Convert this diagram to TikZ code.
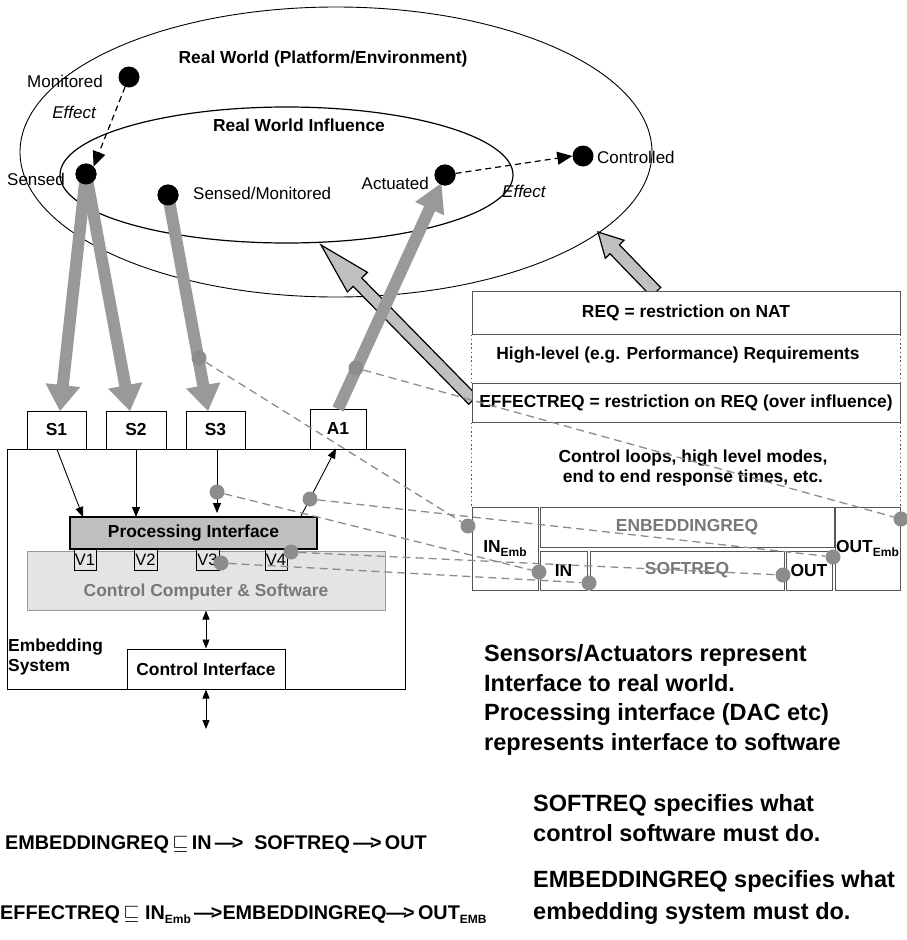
\documentclass[tikz,border=0pt]{standalone}
\usepackage{fontspec}
\setmainfont{Liberation Sans}
\usetikzlibrary{arrows.meta,calc}
\definecolor{darkarrow}{HTML}{999999}
\definecolor{lightarrow}{HTML}{C0C0C0}
\definecolor{dotgray}{HTML}{8C8C8C}
\definecolor{procgray}{HTML}{BFBFBF}
\definecolor{ccsgray}{HTML}{E4E4E4}
\definecolor{txtgray}{HTML}{787878}
\definecolor{boxline}{HTML}{555555}
\newcommand\fatarrow[6]{%
  \coordinate (fahead) at ($(#3)!#6!(#2)$);
  \path[#1] ($(#2)!#4!90:(#3)$) -- ($(fahead)!#4!-90:(#2)$) -- ($(fahead)!#5!-90:(#2)$) -- (#3) -- ($(fahead)!#5!90:(#2)$) -- ($(fahead)!#4!90:(#2)$) -- ($(#2)!#4!-90:(#3)$) -- cycle;}
\newcommand\sbs[1]{\raisebox{-0.35ex}{\fontsize{12}{12}\selectfont #1}}
\newcommand\myto{—\kern-3pt>}
\begin{document}
\begin{tikzpicture}[x=1pt,y=-1pt,
  lblb/.style={font=\fontsize{17.4}{20}\selectfont\bfseries, inner sep=0pt},
  lblr/.style={font=\fontsize{17}{19}\selectfont, inner sep=0pt},
  box/.style={draw=black, line width=1pt, fill=white, inner sep=0pt, font=\fontsize{17.4}{20}\selectfont\bfseries},
  rbox/.style={box, draw=boxline},
  bdot/.style={circle, fill=black, inner sep=0pt, minimum size=21pt},
  gdot/.style={circle, fill=dotgray, inner sep=0pt, minimum size=15pt},
  gdash/.style={draw=dotgray, line width=1.3pt, dash pattern=on 8pt off 5pt},
  bdash/.style={draw=black, line width=1.2pt, dash pattern=on 6pt off 4pt, -{Triangle[length=15pt,width=13pt]}},
  thinarrow/.style={draw=black, line width=0.9pt, -{Triangle[length=10pt,width=8pt]}},
  dblarrow/.style={draw=black, line width=0.9pt, {Triangle[length=9pt,width=7pt]}-{Triangle[length=9pt,width=7pt]}},
  darkfat/.style={fill=darkarrow},
  lightfat/.style={fill=lightarrow, draw=black, line width=1.2pt, line join=miter},
  dotsep/.style={draw=boxline, line width=1.5pt, dash pattern=on 1.5pt off 2.8pt},
  note/.style={font=\fontsize{23.5}{29.5}\selectfont\bfseries, inner sep=0pt, align=left, anchor=west},
  eqn/.style={font=\fontsize{19.8}{22}\selectfont\bfseries, inner sep=0pt, anchor=west}
]
\useasboundingbox (0,0) rectangle (907,940);

% ellipses
\draw[line width=0.9pt] (336,152) ellipse [x radius=316pt, y radius=145pt];
\draw[line width=1.2pt] (286.5,175) ellipse [x radius=226.5pt, y radius=68pt];

% titles and labels
\node[lblb] (tw) at (323,59) {Real World (Platform/Environment)};
\node[lblb] (ti) at (299,125) {Real World Influence};
\node[lblr, anchor=east] (lmon) at (103,81) {Monitored};
\node[lblr, font=\fontsize{17}{19}\selectfont\itshape] (leff1) at (74,112) {Effect};
\node[lblr, anchor=west] (lsen) at (7,179) {Sensed};
\node[lblr, anchor=west] (lsm) at (193,193) {Sensed/Monitored};
\node[lblr, anchor=east] (lact) at (429,183) {Actuated};
\node[lblr, anchor=west] (lctl) at (597,157) {Controlled};
\node[lblr, anchor=west, font=\fontsize{17}{19}\selectfont\itshape] (leff2) at (502,191) {Effect};

% black dots
\node[bdot] (mon) at (129,77) {};
\node[bdot] (sensed) at (86,174) {};
\node[bdot] (sm) at (168,195) {};
\node[bdot] (act) at (445,175) {};
\node[bdot] (ctrl) at (583,156) {};

% embedding system boxes
\node[box, minimum width=398pt, minimum height=240pt] (emb) at (206,569) {};
\node[box, minimum width=59pt, minimum height=38pt] (S1) at (56.5,430) {S1};
\node[box, minimum width=60pt, minimum height=38pt] (S2) at (136,430) {S2};
\node[box, minimum width=59pt, minimum height=38pt] (S3) at (215.5,430) {S3};
\node[box, minimum width=56pt, minimum height=40pt] (A1) at (338,429) {A1};
\node[box, draw=darkarrow, fill=ccsgray, text=txtgray, minimum width=358pt, minimum height=59pt, text depth=0pt] (ccs) at (206,580.5) {\raisebox{-16pt}{Control Computer \& Software}};
\node[box, fill=procgray, line width=1.2pt, minimum width=247pt, minimum height=32pt] (proc) at (193.5,533) {Processing Interface};
\node[box, fill=ccsgray, font=\fontsize{16.5}{19}\selectfont, minimum width=22pt, minimum height=21pt] (V1) at (85,559.5) {V1};
\node[box, fill=ccsgray, font=\fontsize{16.5}{19}\selectfont, minimum width=23pt, minimum height=21pt] (V2) at (145.5,559.5) {V2};
\node[box, fill=ccsgray, font=\fontsize{16.5}{19}\selectfont, minimum width=23pt, minimum height=21pt] (V3) at (207.5,559.5) {V3};
\node[box, fill=ccsgray, font=\fontsize{16.5}{19}\selectfont, minimum width=22pt, minimum height=21pt] (V4) at (276,559.5) {V4};
\node[box, minimum width=158pt, minimum height=40pt] (ci) at (206,669) {Control Interface};
\node[lblb, anchor=west, align=left] (lemb) at (8,657) {Embedding\\System};
\coordinate (ext) at (206,729);

% right requirement boxes
\node[rbox, minimum width=428pt, minimum height=43pt] (req) at (686,312.5) {REQ = restriction on NAT};
\node[lblb] (lhl) at (678,355) {High-level (e.g. Performance) Requirements};
\node[rbox, minimum width=428pt, minimum height=39pt] (effreq) at (686,402.5) {EFFECTREQ = restriction on REQ (over influence)};
\node[lblb, align=center] (lcl) at (693,468) {Control loops, high level modes,\\end to end response times, etc.};
\node[rbox, minimum width=66pt, minimum height=83pt] (inemb) at (505,548.5) {IN\sbs{Emb}};
\node[rbox, text=txtgray, minimum width=294pt, minimum height=40pt] (enbreq) at (687,527) {ENBEDDINGREQ};
\node[rbox, minimum width=47pt, minimum height=39pt] (in) at (563.5,570.5) {IN};
\node[rbox, text=txtgray, minimum width=194pt, minimum height=39pt] (softreq) at (687,570.5) {SOFTREQ};
\node[rbox, minimum width=46pt, minimum height=39pt] (out) at (809,570.5) {OUT};
\node[rbox, minimum width=65pt, minimum height=83pt] (outemb) at (867.5,548.5) {OUT\sbs{Emb}};
\draw[dotsep] (req.south west) -- (effreq.north west);
\draw[dotsep] (req.south east) -- (effreq.north east);
\draw[dotsep] (effreq.south west) -- (inemb.north west);
\draw[dotsep] (effreq.south east) -- (outemb.north east);

% fat arrows
\coordinate (efftail) at (473,400);
\coordinate (inftip) at (321,245);
\coordinate (reqtail) at (656,292);
\coordinate (reqtip) at (598,232);
\coordinate (S1tip) at (60,411);
\coordinate (S2tip) at (130,411);
\coordinate (S3tip) at (208,411);
\coordinate (A1tail) at (338,409);
\coordinate (acttip) at ($(act)!9pt!(A1tail)$);
\fatarrow{lightfat}{efftail}{inftip}{6pt}{14pt}{52pt}
\fatarrow{lightfat}{reqtail}{reqtip}{6.5pt}{13pt}{24pt}
\fatarrow{darkfat}{sensed}{S1tip}{6pt}{17.5pt}{26pt}
\fatarrow{darkfat}{sensed}{S2tip}{6pt}{17.5pt}{26pt}
\fatarrow{darkfat}{sm}{S3tip}{6pt}{17.5pt}{26pt}
\fatarrow{darkfat}{A1tail}{acttip}{6pt}{16pt}{28pt}
% redraw dots above arrows
\node[bdot] at (sensed) {};
\node[bdot] at (sm) {};
\node[bdot] at (act) {};
% redraw box edges covered
\node[rbox, minimum width=428pt, minimum height=39pt] at (effreq) {EFFECTREQ = restriction on REQ (over influence)};
\node[rbox, minimum width=428pt, minimum height=43pt] at (req) {REQ = restriction on NAT};

% dashed effect arrows
\draw[bdash] (mon) -- (sensed.north east);
\draw[bdash] (act) -- (ctrl.west);

% inner arrows
\coordinate (p1) at (83,517);
\coordinate (p2) at (136,517);
\coordinate (p3) at (217,513);
\coordinate (p4) at (301,516);
\draw[thinarrow] (S1.south) ++(0.5,0) coordinate (s1b) (s1b) -- (p1);
\draw[thinarrow] (S2.south) -- (p2);
\draw[thinarrow] ($(S3.south)+(1.5,0)$) -- (p3);
\draw[thinarrow] (p4) -- ($(A1.south)+(-2,-1)$);
\draw[dblarrow] (ccs.south) -- (ci.north);
\draw[dblarrow] (ci.south) -- (ext);

% gray dots and dashed correspondence lines
\node[gdot] (g1) at (199,358) {};
\node[gdot] (g2) at (356,368) {};
\node[gdot] (g3) at (217,492) {};
\node[gdot] (g4) at (310,499) {};
\node[gdot] (g5) at (291,552) {};
\node[gdot] (g6) at (221,563) {};
\node[gdot] (r1) at (468,526) {};
\node[gdot] (r2) at (539,572) {};
\node[gdot] (r3) at (589,583) {};
\node[gdot] (r4) at (783,575) {};
\node[gdot] (r5) at (833,557) {};
\node[gdot] (r6) at (901,519) {};
\draw[gdash] (g1) -- (r1);
\draw[gdash] (g2) -- (r6);
\draw[gdash] (g3) -- (r2);
\draw[gdash] (g4) -- (r5);
\draw[gdash] (g5) -- (r4);
\draw[gdash] (g6) -- (r3);

% notes
\node[note] (n1) at (484,700) {Sensors/Actuators represent\\Interface to real world.\\Processing interface (DAC etc)\\represents interface to software};
\node[note] (n2) at (533,818) {SOFTREQ specifies what\\control software must do.};
\node[note, font=\fontsize{23.5}{32}\selectfont\bfseries] (n3) at (533,897) {EMBEDDINGREQ specifies what\\embedding system must do.};
\node[eqn] (e1) at (5,845) {EMBEDDINGREQ\,$\sqsubseteq$\,IN\,\myto\ \ SOFTREQ\,\myto\,OUT};
\node[eqn] (e2) at (0,915) {EFFECTREQ\,$\sqsubseteq$\ IN\sbs{Emb}\,\myto EMBEDDINGREQ\myto\,OUT\sbs{EMB}};
\end{tikzpicture}
\end{document}
